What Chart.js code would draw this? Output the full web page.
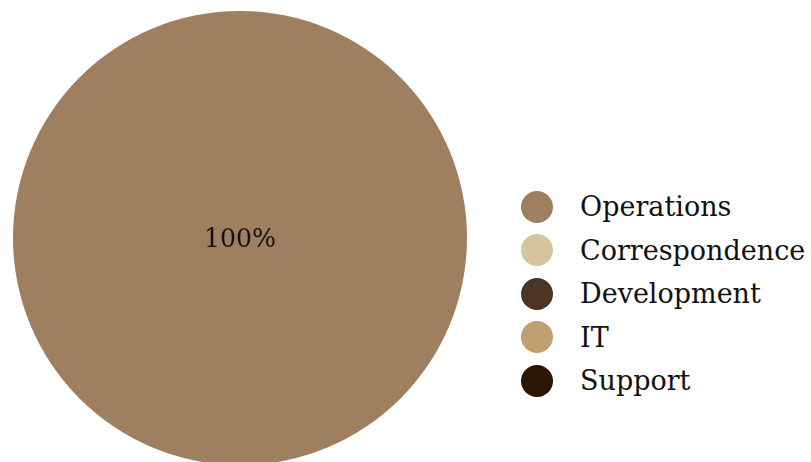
<!DOCTYPE html>
<html>
<head>
<meta charset="utf-8">
<script src="https://cdn.jsdelivr.net/npm/chart.js@4"></script>
<style>
  html, body { margin: 0; padding: 0; background: #fff; }
  body { width: 811px; height: 462px; overflow: hidden; position: relative; }
  #wrap { position: absolute; left: 0; top: 0; width: 480px; height: 476px; }
  #legend { position: absolute; left: 521px; top: 185px; color: #111; }
  .row { display: flex; align-items: center; height: 43.5px; }
  .dot { width: 32px; height: 32px; border-radius: 50%; margin-right: 27px; flex: none; }
</style>
</head>
<body>
<div id="wrap"><canvas id="chart"></canvas></div>
<div id="legend"></div>
<script>
const categories = ["Operations", "Correspondence", "Development", "IT", "Support"];
const shares = [100, 0, 0, 0, 0];
const sliceColors = ["#9e7f60", "#d4c5a0", "#4a3525", "#c0a070", "#2a1505"];

const FONT = '"DejaVu Serif", "Liberation Serif", "Times New Roman", serif';

// pick a font size so a sample string spans a given width
function fitSize(text, width) {
  const c = document.createElement("canvas").getContext("2d");
  c.font = "100px " + FONT;
  return Math.round((100 * width) / c.measureText(text).width * 10) / 10;
}
const legendSize = fitSize("Correspondence", 225);
const labelSize = fitSize("100%", 72);

// percent labels drawn in the middle of each non-empty slice
const sliceLabels = {
  id: "sliceLabels",
  afterDatasetsDraw(chart) {
    const { ctx } = chart;
    const meta = chart.getDatasetMeta(0);
    const total = shares.reduce((a, b) => a + b, 0);
    ctx.save();
    ctx.font = labelSize + "px " + FONT;
    ctx.fillStyle = "#111";
    ctx.textAlign = "center";
    ctx.textBaseline = "middle";
    meta.data.forEach((arc, i) => {
      if (!shares[i]) return;
      const pct = Math.round((shares[i] / total) * 100);
      let x, y;
      if (pct === 100) {
        x = arc.x;
        y = arc.y + 2;
      } else {
        const p = arc.tooltipPosition();
        x = p.x;
        y = p.y;
      }
      ctx.fillText(pct + "%", x, y);
    });
    ctx.restore();
  },
};

new Chart(document.getElementById("chart"), {
  type: "pie",
  data: {
    labels: categories,
    datasets: [{ data: shares, backgroundColor: sliceColors, borderWidth: 0 }],
  },
  options: {
    responsive: true,
    maintainAspectRatio: false,
    animation: false,
    layout: { padding: { left: 13, right: 13, top: 11, bottom: 11 } },
    plugins: {
      legend: { display: false },
      tooltip: { enabled: false },
    },
  },
  plugins: [sliceLabels],
});

const legend = document.getElementById("legend");
legend.style.fontFamily = FONT;
legend.style.fontSize = legendSize + "px";
categories.forEach((name, i) => {
  const row = document.createElement("div");
  row.className = "row";
  const dot = document.createElement("span");
  dot.className = "dot";
  dot.style.background = sliceColors[i];
  const label = document.createElement("span");
  label.textContent = name;
  row.appendChild(dot);
  row.appendChild(label);
  legend.appendChild(row);
});
</script>
</body>
</html>
